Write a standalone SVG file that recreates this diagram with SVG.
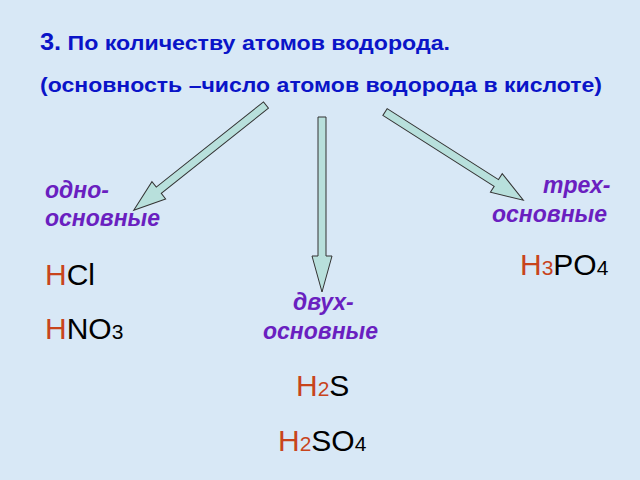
<svg xmlns="http://www.w3.org/2000/svg" width="640" height="480" viewBox="0 0 640 480">
<style>
.t{font-family:"Liberation Sans",Arial,sans-serif;font-weight:bold;font-size:21px;fill:#0a14c8}
.l{font-family:"Liberation Sans",Arial,sans-serif;font-weight:bold;font-style:italic;font-size:23px;fill:#6a1fc0}
.f{font-family:"Liberation Sans",Arial,sans-serif;font-size:30px;fill:#000}
.h{fill:#c8441c}
.s{font-size:21px}
.a{fill:#b8e0dc;stroke:#333;stroke-width:1}
</style>
<rect width="640" height="480" fill="#d8e8f6"/>
<g id="title">
<text class="t" x="40" y="50" textLength="410" lengthAdjust="spacingAndGlyphs"><tspan font-size="23">3.</tspan> По количеству атомов водорода.</text>
<text class="t" x="40" y="92" textLength="562" lengthAdjust="spacingAndGlyphs">(основность –число атомов водорода в кислоте)</text>
</g>
<g id="connectors">
<polygon class="a" transform="translate(266,105) rotate(141.5)" points="0,-4 137,-4 137,-11 169,0 137,11 137,4 0,4"/>
<polygon class="a" transform="translate(322,117) rotate(90)" points="0,-4 139,-4 139,-10 175,0 139,10 139,4 0,4"/>
<polygon class="a" transform="translate(385,112) rotate(32.5)" points="0,-4 132,-4 132,-11 164,0 132,11 132,4 0,4"/>
</g>
<g id="one">
<text class="l" x="45" y="198">одно-</text>
<text class="l" x="45" y="226">основные</text>
<text class="f" x="45" y="285"><tspan class="h">H</tspan>Cl</text>
<text class="f" x="45" y="339"><tspan class="h">H</tspan>NO<tspan class="s">3</tspan></text>
</g>
<g id="two">
<text class="l" x="293" y="310">двух-</text>
<text class="l" x="263" y="339">основные</text>
<text class="f" x="296" y="396"><tspan class="h">H</tspan><tspan class="h s">2</tspan>S</text>
<text class="f" x="278" y="451"><tspan class="h">H</tspan><tspan class="h s">2</tspan>SO<tspan class="s">4</tspan></text>
</g>
<g id="three">
<text class="l" x="543" y="193">трех-</text>
<text class="l" x="492" y="222">основные</text>
<text class="f" x="520" y="275"><tspan class="h">H</tspan><tspan class="h s">3</tspan>PO<tspan class="s">4</tspan></text>
</g>
</svg>
